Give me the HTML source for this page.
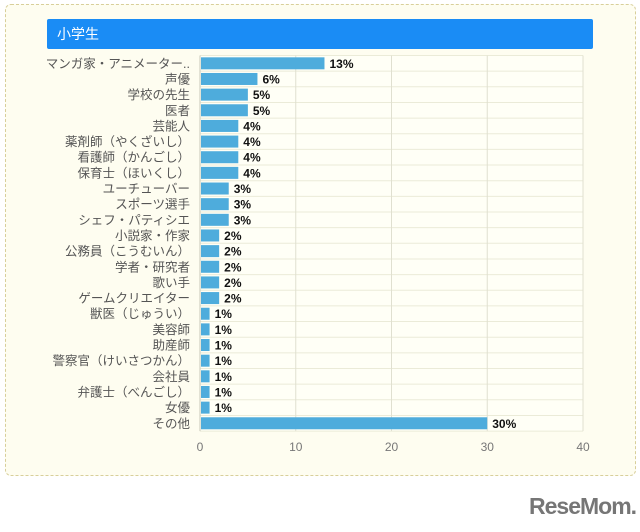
<!DOCTYPE html>
<html><head><meta charset="utf-8">
<style>
html,body{margin:0;padding:0;background:#fff;}
body{width:640px;height:532px;position:relative;overflow:hidden;font-family:"Liberation Sans","Noto Sans CJK JP",sans-serif;}
#panel{position:absolute;left:5px;top:4px;width:629px;height:470px;border:1px dashed #d8cf9a;border-radius:6px;background:#fefdf0;}
#header{position:absolute;left:47px;top:19px;width:546px;height:30px;background:#1a8cf5;border-radius:2px;color:#fff;font-size:14px;line-height:30px;padding-left:10px;box-sizing:border-box;}
svg{position:absolute;left:0;top:0;}
#logo{position:absolute;left:529px;top:493px;font-size:23px;font-weight:bold;color:#767676;letter-spacing:-1px;}
</style></head><body>
<div id="panel"></div>
<div id="header">小学生</div>
<svg id="chart" width="640" height="532"></svg>
<div id="logo">ReseMom.</div>
<script>
const categories=["マンガ家・アニメーター..","声優","学校の先生","医者","芸能人","薬剤師（やくざいし）","看護師（かんごし）","保育士（ほいくし）","ユーチューバー","スポーツ選手","シェフ・パティシエ","小説家・作家","公務員（こうむいん）","学者・研究者","歌い手","ゲームクリエイター","獣医（じゅうい）","美容師","助産師","警察官（けいさつかん）","会社員","弁護士（べんごし）","女優","その他"];
const values=[13,6,5,5,4,4,4,4,3,3,3,2,2,2,2,2,1,1,1,1,1,1,1,30];
const xTicks=[0,10,20,30,40];
const NS="http://www.w3.org/2000/svg";
const svg=document.getElementById('chart');
const x0=200,x1=583,top0=55.5,rowH=15.65,xMax=40;
const xs=v=>x0+(x1-x0)*v/xMax;
const ys=i=>top0+i*rowH;
function mk(t,a){const e=document.createElementNS(NS,t);for(const k in a)e.setAttribute(k,a[k]);svg.appendChild(e);return e;}
const bottom=ys(categories.length);
let bg=mk('rect',{x:x0,y:top0,width:x1-x0,height:bottom-top0,fill:'#fffff6'});


for(let i=0;i<=categories.length;i++){
  let l=mk('line',{x1:x0,x2:x1,y1:ys(i),y2:ys(i),stroke:'#ebebd8','stroke-width':1});
  
  
}
xTicks.forEach(t=>{
  let l=mk('line',{x1:xs(t),x2:xs(t),y1:top0,y2:bottom,stroke:t===0?'#c8c8b8':'#e0e0d0','stroke-width':1});
  
  
  let tx=mk('text',{x:xs(t),y:bottom+20,'text-anchor':'middle','font-size':12,fill:'#777'});
  tx.textContent=t;
  
  
});
categories.forEach((c,i)=>{
  const cy=ys(i)+rowH/2;
  let lb=mk('text',{x:190,y:cy+4.5,'text-anchor':'end','font-size':12.5,fill:'#555'});
  lb.textContent=c;
  
  
  let r=mk('rect',{x:x0+1,y:cy-6,width:xs(values[i])-x0-1,height:12,fill:'#4eacdc'});
  
  
  let v=mk('text',{x:xs(values[i])+5,y:cy+4.5,'font-size':12,'font-weight':'bold',fill:'#111'});
  v.textContent=values[i]+'%';
  
  
});
</script>
</body></html>
